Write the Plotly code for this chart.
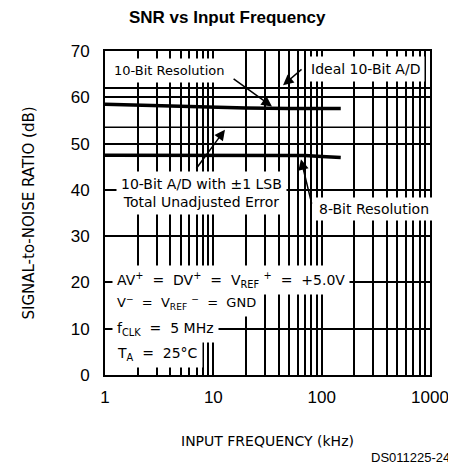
import plotly.graph_objects as go
import math

# ---- data ----
freq_10bit = [1, 2, 5, 10, 20, 50, 100, 150]
snr_10bit = [58.5, 58.3, 58.0, 57.8, 57.7, 57.6, 57.6, 57.6]
freq_8bit = [1, 10, 50, 70, 100, 150]
snr_8bit = [47.5, 47.5, 47.5, 47.4, 47.2, 47.0]
freq_ideal = [1, 1000]
snr_ideal = [62, 62]
freq_tue = [1, 1000]
snr_tue = [53.5, 53.5]

x_tickvals = [1, 10, 100, 1000]
x_ticktext = ["1", "10", "100", "1000"]
x_minor = [m * d for d in (1, 10, 100) for m in range(2, 10)]
y_tickvals = [0, 10, 20, 30, 40, 50, 60, 70]

TECH = "DejaVu Sans"
NUM = "Liberation Sans, Arial"
S = "\u00a0"

fig = go.Figure()
fig.add_trace(go.Scatter(x=freq_ideal, y=snr_ideal, mode="lines",
                         line=dict(color="black", width=2), showlegend=False))
fig.add_trace(go.Scatter(x=freq_tue, y=snr_tue, mode="lines",
                         line=dict(color="black", width=1.5), showlegend=False))
fig.add_trace(go.Scatter(x=freq_10bit, y=snr_10bit, mode="lines",
                         line=dict(color="black", width=3.5), showlegend=False))
fig.add_trace(go.Scatter(x=freq_8bit, y=snr_8bit, mode="lines",
                         line=dict(color="black", width=3.5), showlegend=False))

L = math.log10

def txt(text, x, y, xanchor="left", size=13, align="left", pad=3):
    fig.add_annotation(x=L(x), y=y, xref="x", yref="y", text=text, showarrow=False,
                       xanchor=xanchor, yanchor="middle", align=align,
                       font=dict(family=TECH, size=size, color="black"),
                       bgcolor="white", borderpad=pad)

def arrow(x0, y0, x1, y1):
    fig.add_annotation(x=L(x1), y=y1, ax=L(x0), ay=y0, xref="x", yref="y",
                       axref="x", ayref="y", text="", showarrow=True,
                       arrowhead=2, arrowsize=1.4, arrowwidth=1.5, arrowcolor="black")

eq = S + "=" + S + S
txt("10-Bit Resolution", 1.08, 65.8, pad=4)
txt("Ideal 10-Bit A/D", 72, 66.2, pad=4, size=14)
txt("10-Bit A/D with ±1 LSB<br>Total Unadjusted Error", 7.7, 39.3, xanchor="center",
    align="center", pad=4, size=14)
txt("8-Bit Resolution", 87, 35.9, pad=3, size=14)
txt("AV<sup>+</sup>" + S + eq + "DV<sup>+</sup>" + S + eq + "V<sub>REF</sub>" + S + "<sup>+</sup>" + S + eq + "+5.0V",
    1.15, 20.6, pad=4, size=14)
txt("V<sup>−</sup>" + S + eq + "V<sub>REF</sub>" + S + "<sup>−</sup>" + S + eq + "GND", 1.15, 15.6, pad=4)
txt("f<sub>CLK</sub>" + S + eq + "5" + S + "MHz", 1.15, 10.0, pad=4, size=14)
txt("T<sub>A</sub>" + S + eq + "25°C", 1.15, 4.6, pad=4, size=14)

arrow(14.9, 64.2, 34.8, 58.0)
arrow(67.3, 66.3, 44.0, 62.6)
arrow(6.8, 44.3, 12.8, 53.0)
arrow(81.5, 36.7, 64.4, 46.6)

fig.add_annotation(x=0.378, y=1.0, xref="paper", yref="paper", yshift=34,
                   text="<b>SNR vs Input Frequency</b>", showarrow=False,
                   xanchor="center", yanchor="middle",
                   font=dict(family=NUM, size=17, color="black"))
fig.add_annotation(x=1.068, y=-0.256, xref="paper", yref="paper",
                   text="DS011225-24", showarrow=False, xanchor="right", yanchor="middle",
                   font=dict(family=NUM, size=13, color="black"))

fig.update_xaxes(type="log", range=[0, 3], tickmode="array", tickvals=x_tickvals,
                 ticktext=x_ticktext, ticks="", showgrid=True, gridcolor="black",
                 gridwidth=1.5, showline=True, mirror=True, linecolor="black",
                 linewidth=2, tickfont=dict(family=NUM, size=17, color="black"),
                 ticklabelstandoff=6,
                 minor=dict(tickmode="array", tickvals=x_minor, showgrid=True,
                            gridcolor="black", gridwidth=1.5, ticks=""),
                 title=dict(text="INPUT FREQUENCY (kHz)",
                            font=dict(family=TECH, size=14, color="black"), standoff=30))
fig.update_yaxes(range=[0, 70], tickmode="array", tickvals=y_tickvals, ticks="",
                 showgrid=True, gridcolor="black", gridwidth=1.5, zeroline=False,
                 showline=True, mirror=True, linecolor="black", linewidth=2,
                 tickfont=dict(family=NUM, size=17, color="black"),
                 ticklabelstandoff=10,
                 title=dict(text="SIGNAL-to-NOISE RATIO (dB)",
                            font=dict(family=TECH, size=15, color="black"), standoff=32))

# the page body has an 8px default margin, so margins are reduced by 8px on the left/top
fig.update_layout(width=456, height=466, margin=dict(l=97, r=34, t=43, b=99),
                  plot_bgcolor="white", paper_bgcolor="white", showlegend=False)

fig.write_html("out.html")
